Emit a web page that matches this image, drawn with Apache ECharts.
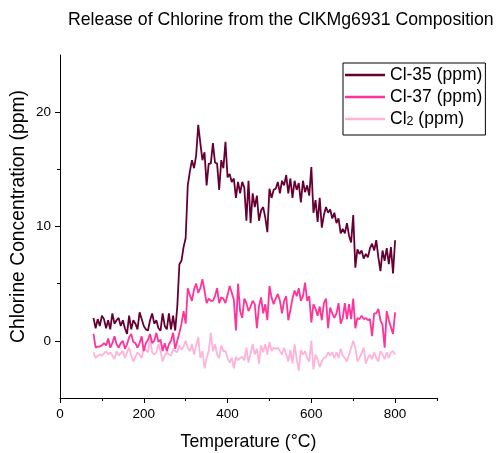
<!DOCTYPE html>
<html>
<head>
<meta charset="utf-8">
<script src="https://cdn.jsdelivr.net/npm/echarts@6/dist/echarts.min.js"></script>
<style>
html,body{margin:0;padding:0;background:#fff;}
#chart{width:498px;height:453px;}
</style>
</head>
<body>
<div id="chart"></div>
<script>
// Temperatures (°C)
const temps = [
  80,85,90,95,100,105,110,115,120,125,
  130,135,140,145,150,155,160,165,170,175,
  180,185,190,195,200,205,210,215,220,225,
  230,235,240,245,250,255,260,265,270,275,
  280,285,290,295,300,305,310,315,320,325,
  330,335,340,345,350,355,360,365,370,375,
  380,385,390,395,400,405,410,415,420,425,
  430,435,440,445,450,455,460,465,470,475,
  480,485,490,495,500,505,510,515,520,525,
  530,535,540,545,550,555,560,565,570,575,
  580,585,590,595,600,605,610,615,620,625,
  630,635,640,645,650,655,660,665,670,675,
  680,685,690,695,700,705,710,715,720,725,
  730,735,740,745,750,755,760,765,770,775,
  780,785,790,795,800
];
// Cl-35 (ppm)
const cl35 = [
  2.0,1.1,1.9,1.3,2.2,1.9,1.1,1.8,1.0,2.4,
  1.5,1.8,2.0,1.3,1.8,1.1,0.6,2.2,1.0,1.8,
  1.5,1.0,2.5,1.9,1.3,1.0,0.9,1.8,2.4,1.5,
  1.8,1.1,0.9,2.4,1.3,1.0,2.4,1.0,2.2,0.9,
  3.0,6.7,7.0,8.2,9.0,13.6,14.8,15.8,15.1,16.2,
  18.9,17.3,15.8,16.5,13.6,15.5,15.5,17.3,15.6,15.5,
  13.2,15.8,15.1,17.4,14.3,14.6,13.9,14.2,12.5,13.9,
  12.9,13.9,13.4,10.5,14.0,10.3,12.9,11.7,12.7,10.5,
  11.4,11.7,10.8,9.5,13.3,12.5,13.2,13.3,13.9,12.9,
  14.0,13.6,14.5,12.9,14.2,12.5,14.0,13.2,13.8,12.1,
  14.0,13.0,13.6,12.7,15.2,11.2,12.3,10.4,12.5,9.9,
  11.0,11.7,11.2,11.5,10.7,11.2,10.3,10.7,9.4,9.8,
  9.4,10.3,9.2,8.6,11.0,6.4,8.0,7.6,7.9,7.2,
  7.6,7.3,8.1,8.5,7.9,8.8,7.3,6.1,7.9,7.0,
  8.1,6.7,8.2,5.9,8.8
];
// Cl-37 (ppm)
const cl37 = [
  0.6,-0.6,-0.5,-0.5,-0.4,-0.2,-0.4,0.2,-0.6,-0.2,
  0.4,-0.3,-0.6,-0.2,0.0,-0.7,-0.3,0.3,0.6,-0.1,
  -0.2,-0.6,-0.2,0.4,-0.9,-0.2,0.1,0.6,-0.2,0.0,
  0.7,-0.1,0.1,-0.9,-0.2,-0.9,-0.3,0.0,0.7,-0.7,
  0.0,0.7,1.5,2.6,1.5,4.6,4.0,3.5,4.5,5.0,
  4.2,4.6,5.4,4.4,3.3,3.7,3.5,3.5,3.9,4.6,
  3.3,3.8,3.7,3.3,4.0,4.8,4.2,3.6,0.9,5.0,
  2.6,2.0,3.7,3.3,2.6,3.0,3.5,3.2,1.1,3.0,
  3.8,2.4,3.2,1.8,4.8,3.8,3.2,3.7,4.1,3.5,
  2.4,3.5,3.9,1.8,2.7,3.7,4.4,3.9,4.6,3.5,
  3.9,5.1,3.5,3.9,1.6,3.2,2.8,2.2,3.0,1.8,
  3.3,3.7,1.1,2.9,2.4,2.0,2.4,3.3,1.5,2.0,
  3.3,1.9,3.2,1.9,3.7,1.1,2.0,1.9,2.2,1.9,
  2.0,1.8,1.9,0.4,2.4,2.4,2.8,1.8,1.4,-0.6,
  2.6,1.8,1.2,0.6,2.5
];
// Cl2 (ppm)
const cl2 = [
  -1.0,-1.5,-1.3,-1.2,-1.3,-1.1,-0.9,-1.2,-1.0,-1.3,
  -1.6,-0.9,-1.3,-1.1,-0.9,-1.5,-1.0,-0.6,-1.3,-1.8,
  -1.4,-1.0,-1.2,-1.5,-0.6,-0.8,-1.0,0.2,-1.0,-1.2,
  -1.0,-0.3,-0.9,-1.8,-1.3,-1.0,-1.2,-1.3,-0.7,-0.9,
  -1.0,-0.4,-0.8,-0.5,0.0,-0.6,-0.9,-0.3,-1.2,-0.4,
  0.3,-1.5,-0.9,-2.4,-1.5,-0.9,0.7,-0.9,-0.3,-1.2,
  -1.5,-0.4,-0.9,-0.9,-1.5,-1.9,-1.5,-2.4,-1.4,-1.7,
  -1.5,-1.4,-1.7,-0.6,-1.9,-1.1,-0.3,-1.2,-0.7,-2.0,
  -0.4,-1.0,-0.3,-1.2,-0.1,-0.9,-0.6,-0.7,-0.6,-0.9,
  -1.2,-0.6,-1.2,-1.8,-0.8,-2.0,-0.3,-1.6,-2.6,-0.8,
  -1.2,-0.9,-1.5,-1.8,0.0,-2.5,-1.2,-1.6,-2.3,-1.8,
  -1.5,-1.4,-1.0,-1.3,-1.0,-1.5,-1.0,-1.5,-0.7,-1.3,
  -1.5,-1.8,-1.2,-0.6,0.0,-0.6,-1.8,-1.5,-1.1,-0.6,
  -2.0,-1.5,-1.2,-1.6,-1.0,-1.5,-1.8,-0.9,-1.2,-1.6,
  -1.0,-1.5,-1.0,-0.9,-1.2
];
const seriesNames = ['Cl-35 (ppm)', 'Cl-37 (ppm)', 'Cl2 (ppm)'];
const xMajorTicks = [0, 200, 400, 600, 800];
const xMinorTicks = [100, 300, 500, 700, 900];
const yMajorTicks = [0, 10, 20];
const yMinorTicks = [5, 15];

const FONT = '"Liberation Sans", Arial, Helvetica, sans-serif';
const colors = ['#660033', '#ff3399', '#ffb3d9'];

function pairs(vals) { return temps.map((t, i) => [t, vals[i]]); }

const chart = echarts.init(document.getElementById('chart'), null, {renderer: 'canvas'});
const axisLineStyle = {color: '#000', width: 1};
chart.setOption({
  animation: false,
  backgroundColor: '#fff',
  textStyle: {fontFamily: FONT},
  title: {
    text: 'Release of Chlorine from the ClKMg6931 Composition',
    left: 68, top: 11, padding: 0,
    textStyle: {fontFamily: FONT, fontSize: 17.7, fontWeight: 'normal', color: '#000'}
  },
  grid: {left: 60, right: 61, top: 55, bottom: 55, containLabel: false, outerBoundsMode: 'none'},
  legend: {
    data: seriesNames,
    orient: 'vertical',
    left: 343, top: 63,
    padding: [3, 3, 7, 2],
    itemGap: 4,
    itemWidth: 40, itemHeight: 2.5,
    icon: 'rect',
    borderColor: '#000', borderWidth: 1, borderRadius: 0,
    formatter: function (name) {
      if (name === 'Cl2 (ppm)') return '{a|Cl}{s|2}{a| (ppm)}';
      return '{a|' + name + '}';
    },
    textStyle: {
      fontFamily: FONT, fontSize: 17.5, color: '#000', lineHeight: 18,
      rich: {
        a: {fontFamily: FONT, fontSize: 17.5, color: '#000', lineHeight: 18},
        s: {fontFamily: FONT, fontSize: 12.5, color: '#000', lineHeight: 4, verticalAlign: 'bottom'}
      }
    }
  },
  xAxis: [
    {
      type: 'value', min: 0, max: 900, position: 'bottom',
      name: 'Temperature (°C)', nameLocation: 'middle', nameGap: 35, nameMoveOverlap: false,
      nameTextStyle: {fontFamily: FONT, fontSize: 17.7, color: '#000'},
      axisLine: {show: true, onZero: false, lineStyle: axisLineStyle},
      axisTick: {show: true, inside: false, length: 5, lineStyle: axisLineStyle, customValues: xMajorTicks},
      axisLabel: {show: true, margin: 9, fontFamily: FONT, fontSize: 13.5, color: '#000', customValues: xMajorTicks},
      splitLine: {show: false}
    },
    {
      type: 'value', min: 0, max: 900, position: 'bottom',
      axisLine: {show: false, onZero: false},
      axisTick: {show: true, inside: false, length: 3, lineStyle: axisLineStyle, customValues: xMinorTicks},
      axisLabel: {show: false},
      splitLine: {show: false}
    }
  ],
  yAxis: [
    {
      type: 'value', min: -5, max: 25, position: 'left',
      name: 'Chlorine Concentration (ppm)', nameLocation: 'middle', nameGap: 32, nameMoveOverlap: false,
      nameTextStyle: {fontFamily: FONT, fontSize: 19.3, color: '#000', padding: [0, 0, 0, 20]},
      axisLine: {show: true, onZero: false, lineStyle: axisLineStyle},
      axisTick: {show: true, inside: false, length: 5, lineStyle: axisLineStyle, customValues: yMajorTicks},
      axisLabel: {show: true, margin: 9, fontFamily: FONT, fontSize: 13.5, color: '#000', customValues: yMajorTicks},
      splitLine: {show: false}
    },
    {
      type: 'value', min: -5, max: 25, position: 'left',
      axisLine: {show: false, onZero: false},
      axisTick: {show: true, inside: false, length: 3, lineStyle: axisLineStyle, customValues: yMinorTicks},
      axisLabel: {show: false},
      splitLine: {show: false}
    }
  ],
  series: [
    {name: seriesNames[0], type: 'line', data: pairs(cl35), showSymbol: false, symbol: 'none',
     color: colors[0], lineStyle: {color: colors[0], width: 1.8}, z: 2},
    {name: seriesNames[1], type: 'line', data: pairs(cl37), showSymbol: false, symbol: 'none',
     color: colors[1], lineStyle: {color: colors[1], width: 1.8}, z: 3},
    {name: seriesNames[2], type: 'line', data: pairs(cl2), showSymbol: false, symbol: 'none',
     color: colors[2], lineStyle: {color: colors[2], width: 1.8}, z: 1}
  ]
});
</script>
</body>
</html>
